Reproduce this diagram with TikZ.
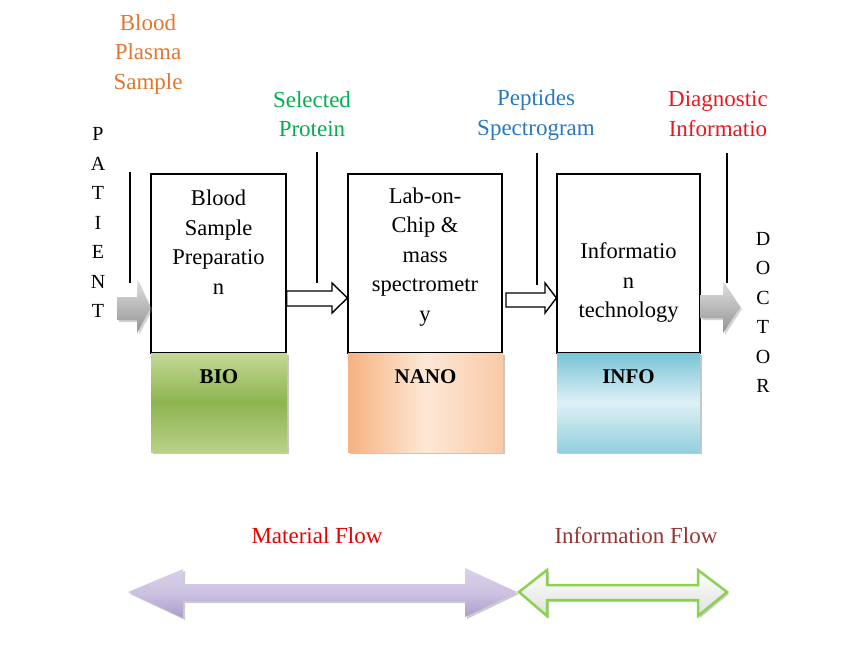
\documentclass[tikz,border=0pt]{standalone}
\usepackage{fontspec}
\setmainfont{Liberation Serif}
\usetikzlibrary{shadows}
\definecolor{cOrange}{RGB}{226,118,46}
\definecolor{cGreen}{RGB}{0,176,80}
\definecolor{cBlue}{RGB}{40,122,190}
\definecolor{cRed}{RGB}{232,24,34}
\definecolor{cMat}{RGB}{232,0,0}
\definecolor{cInfoF}{RGB}{148,54,52}
\definecolor{bioTop}{RGB}{196,216,150}
\definecolor{bioMid}{RGB}{141,180,80}
\definecolor{nanoA}{RGB}{247,178,128}
\definecolor{nanoB}{RGB}{253,232,214}
\definecolor{infoA}{RGB}{120,196,214}
\definecolor{infoB}{RGB}{222,240,245}
\definecolor{purA}{RGB}{218,210,234}
\definecolor{purB}{RGB}{170,156,204}
\definecolor{grnEdge}{RGB}{140,210,80}
\begin{document}
\begin{tikzpicture}[x=1pt,y=-1pt,
  wbox/.style={draw=black,line width=1.2pt,fill=white,inner sep=0pt},
  cbox/.style={inner sep=0pt,drop shadow={opacity=0.45,shadow xshift=2pt,shadow yshift=-2pt}},
  boxtext/.style={align=center,font=\fontsize{22.5}{29.5}\selectfont,inner sep=0pt},
  toplabel/.style={align=center,font=\fontsize{23}{29.5}\selectfont,inner sep=0pt},
  vletters/.style={align=center,font=\fontsize{20}{29.5}\selectfont,inner sep=0pt},
  tagtext/.style={font=\fontsize{21}{24}\selectfont\bfseries,inner sep=0pt},
  feed/.style={line width=1.5pt},
  openarrow/.style={draw=black,line width=1.4pt,fill=white,line join=miter},
  grayarrow/.style={fill=gray!60,top color=gray!25,bottom color=gray!85,
     drop shadow={opacity=0.35,shadow xshift=2pt,shadow yshift=-2pt}}
]
\useasboundingbox (0,0) rectangle (865,655);

% white boxes
\node[wbox,minimum width=135pt,minimum height=179pt] (b1) at (218.5,263.5) {};
\node[wbox,minimum width=154pt,minimum height=179pt] (b2) at (425,263.5) {};
\node[wbox,minimum width=143pt,minimum height=179pt] (b3) at (628.5,263.5) {};

% coloured boxes
\node[cbox,minimum width=136pt,minimum height=99pt,
  top color=bioTop,bottom color=bioTop!80!bioMid,middle color=bioMid] (bio) at (219,402.5) {};
\node[cbox,minimum width=155pt,minimum height=99pt,
  left color=nanoA,right color=nanoA!70!white,middle color=nanoB] (nano) at (425.5,402.5) {};
\node[cbox,minimum width=143pt,minimum height=99pt,
  top color=infoA,bottom color=infoA!80!white,middle color=infoB] (info) at (628.5,402.5) {};

\node[tagtext] (tbio) at (219,377) {BIO};
\node[tagtext] (tnano) at (425.5,377) {NANO};
\node[tagtext] (tinfo) at (628.5,377) {INFO};

% box texts
\node[boxtext] (t1) at (218.5,242) {Blood\\Sample\\Preparatio\\n};
\node[boxtext] (t2) at (425,257) {Lab-on-\\Chip \&\\mass\\spectrometr\\y};
\node[boxtext] (t3) at (628.5,283) {Informatio\\n\\technology};

% top labels
\node[toplabel,text=cOrange] (l0) at (148,54) {Blood\\Plasma\\Sample};
\node[toplabel,text=cGreen] (l1) at (312,114) {Selected\\Protein};
\node[toplabel,text=cBlue] (l2) at (536,115) {Peptides\\Spectrogram};
\node[toplabel,text=cRed] (l3) at (718,114) {Diagnostic\\Informatio};

% vertical words
\node[vletters] (pat) at (98,222.5) {P\\A\\T\\I\\E\\N\\T};
\node[vletters] (doc) at (763,312.5) {D\\O\\C\\T\\O\\R};

% feed lines
\coordinate (f0a) at (130,172); \coordinate (f0b) at (130,283);
\coordinate (f1a) at (317,152); \coordinate (f1b) at (317,283);
\coordinate (f2a) at (537,153); \coordinate (f2b) at (537,285);
\coordinate (f3a) at (727,153); \coordinate (f3b) at (727,283);
\draw[feed] (f0a) -- (f0b);
\draw[feed] (f1a) -- (f1b);
\draw[feed] (f2a) -- (f2b);
\draw[feed] (f3a) -- (f3b);

% open arrows between boxes
\draw[openarrow] (b1.east |- 0,291) -- (332,291) -- (332,283) -- (b2.west |- 0,298) -- (332,313) -- (332,306) -- (b1.east |- 0,306) -- cycle;
\draw[openarrow] (506,293) -- (545,293) -- (545,283) -- (b3.west |- 0,298) -- (545,313) -- (545,307) -- (506,307) -- cycle;

% gray arrows
\path[grayarrow] (117,297) -- (137,297) -- (137,280) -- (b1.west |- 0,308) -- (137,333) -- (137,320) -- (117,320) -- cycle;
\path[grayarrow] (b3.east |- 0,295) -- (723,295) -- (723,282) -- (740,307) -- (723,333) -- (723,318) -- (b3.east |- 0,318) -- cycle;

% flow labels
\node[toplabel,text=cMat] (mf) at (317,536) {Material Flow};
\node[toplabel,text=cInfoF] (inf) at (636,536) {Information Flow};

% double arrows
\path[top color=purA,bottom color=purB,middle color=purA!70!purB,
  drop shadow={opacity=0.4,shadow xshift=2pt,shadow yshift=-2pt}]
  (128,592) -- (183,569) -- (183,584) -- (465,584) -- (465,568) -- (517,592)
  -- (465,617) -- (465,601) -- (183,601) -- (183,618) -- cycle;
\path[draw=grnEdge,line width=2.5pt,line join=miter,top color=white,bottom color=gray!25,
  drop shadow={opacity=0.4,shadow xshift=2pt,shadow yshift=-2pt}]
  (519,592) -- (547,570) -- (547,585) -- (698,585) -- (698,570) -- (727,592)
  -- (698,616) -- (698,600) -- (547,600) -- (547,616) -- cycle;
\end{tikzpicture}
\end{document}
